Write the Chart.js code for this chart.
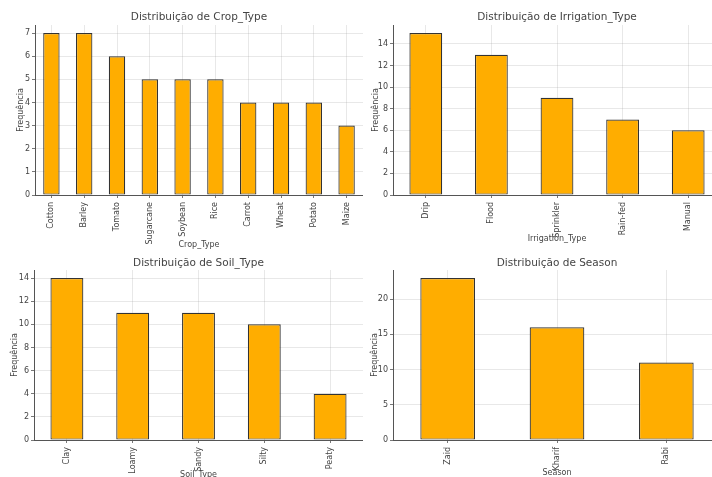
<!DOCTYPE html>
<html>
<head>
<meta charset="utf-8">
<script src="https://cdn.jsdelivr.net/npm/chart.js@4.4.0/dist/chart.umd.min.js"></script>
<style>
 html, body { margin: 0; padding: 0; background: #fff; width: 712px; height: 477px; overflow: hidden; position: relative; }
 canvas { position: absolute; }
 #cropChart { left: 0; top: 0; }
 #irrigationChart { left: 363px; top: 0; }
 #soilChart { left: 0; top: 250px; }
 #seasonChart { left: 363px; top: 250px; }
</style>
</head>
<body>
<canvas id="cropChart" width="363" height="250"></canvas>
<canvas id="irrigationChart" width="358" height="244"></canvas>
<canvas id="soilChart" width="363" height="230"></canvas>
<canvas id="seasonChart" width="358" height="228"></canvas>
<script>
// data
const cropTypes = ['Cotton', 'Barley', 'Tomato', 'Sugarcane', 'Soybean', 'Rice', 'Carrot', 'Wheat', 'Potato', 'Maize'];
const cropCounts = [7, 7, 6, 5, 5, 5, 4, 4, 4, 3];

const irrigationTypes = ['Drip', 'Flood', 'Sprinkler', 'Rain-fed', 'Manual'];
const irrigationCounts = [15, 13, 9, 7, 6];

const soilTypes = ['Clay', 'Loamy', 'Sandy', 'Silty', 'Peaty'];
const soilCounts = [14, 11, 11, 10, 4];

const seasons = ['Zaid', 'Kharif', 'Rabi'];
const seasonCounts = [23, 16, 11];

const cropStep = 1, irrigationStep = 2, soilStep = 2, seasonStep = 5;

const textColor = '#444';
const spineColor = '#555';
const gridColor = 'rgba(140,140,140,0.25)';
const barColor = '#ffad00';
const family = '"DejaVu Sans", sans-serif';

// matplotlib centres the title over the axes, not the canvas
const subplotTitle = {
 id: 'subplotTitle',
 afterDraw(chart, args, opts) {
  const { ctx, chartArea } = chart;
  ctx.save();
  ctx.font = '10.5px ' + family;
  ctx.fillStyle = textColor;
  ctx.textAlign = 'center';
  ctx.textBaseline = 'middle';
  ctx.fillText(opts.text, (chartArea.left + chartArea.right) / 2, chartArea.top - opts.gap);
  ctx.restore();
 }
};

function makeChart(id, labels, values, step, xTitle, box) {
 const font = { family: family, size: 8 };
 new Chart(document.getElementById(id), {
  type: 'bar',
  data: {
   labels: labels,
   datasets: [{
    data: values,
    backgroundColor: barColor,
    borderColor: '#333',
    borderWidth: 1.2,
    borderSkipped: false,
    barPercentage: 0.5,
    categoryPercentage: 1
   }]
  },
  options: {
   responsive: false,
   animation: false,
   layout: { padding: { top: box.padTop, left: 0, right: 0, bottom: 0 } },
   plugins: {
    legend: { display: false },
    tooltip: { enabled: false },
    subplotTitle: { text: 'Distribuição de ' + xTitle, gap: box.titleGap }
   },
   scales: {
    x: {
     offset: true,
     z: 1,
     grid: { offset: false, color: gridColor, lineWidth: 0.8, tickLength: 3, tickColor: spineColor },
     border: { display: true, color: spineColor, width: 1 },
     ticks: { minRotation: 90, maxRotation: 90, autoSkip: false, font: font, color: textColor, padding: 4 },
     title: { display: true, text: xTitle, font: font, color: textColor, padding: 0 },
     afterFit(s) { s.height = box.xHeight; }
    },
    y: {
     min: 0,
     max: Math.max(...values) * 1.05,
     z: 1,
     grid: { color: gridColor, lineWidth: 0.8, tickLength: 3, tickColor: spineColor },
     border: { display: true, color: spineColor, width: 1 },
     ticks: { stepSize: step, includeBounds: false, font: font, color: textColor, padding: 2 },
     title: { display: true, text: 'Frequência', font: font, color: textColor, padding: { top: box.yTitlePad, bottom: 0 } },
     afterFit(s) { s.width = box.yWidth; }
    }
   }
  },
  plugins: [subplotTitle]
 });
}

makeChart('cropChart', cropTypes, cropCounts, cropStep, 'Crop_Type',
 { padTop: 25, xHeight: 55, yWidth: 35, yTitlePad: 16, titleGap: 7.7 });
makeChart('irrigationChart', irrigationTypes, irrigationCounts, irrigationStep, 'Irrigation_Type',
 { padTop: 25, xHeight: 49, yWidth: 30, yTitlePad: 8, titleGap: 7.7 });
makeChart('soilChart', soilTypes, soilCounts, soilStep, 'Soil_Type',
 { padTop: 20, xHeight: 40, yWidth: 34, yTitlePad: 10, titleGap: 6.7 });
makeChart('seasonChart', seasons, seasonCounts, seasonStep, 'Season',
 { padTop: 20, xHeight: 38, yWidth: 30, yTitlePad: 7, titleGap: 6.7 });
</script>
</body>
</html>
